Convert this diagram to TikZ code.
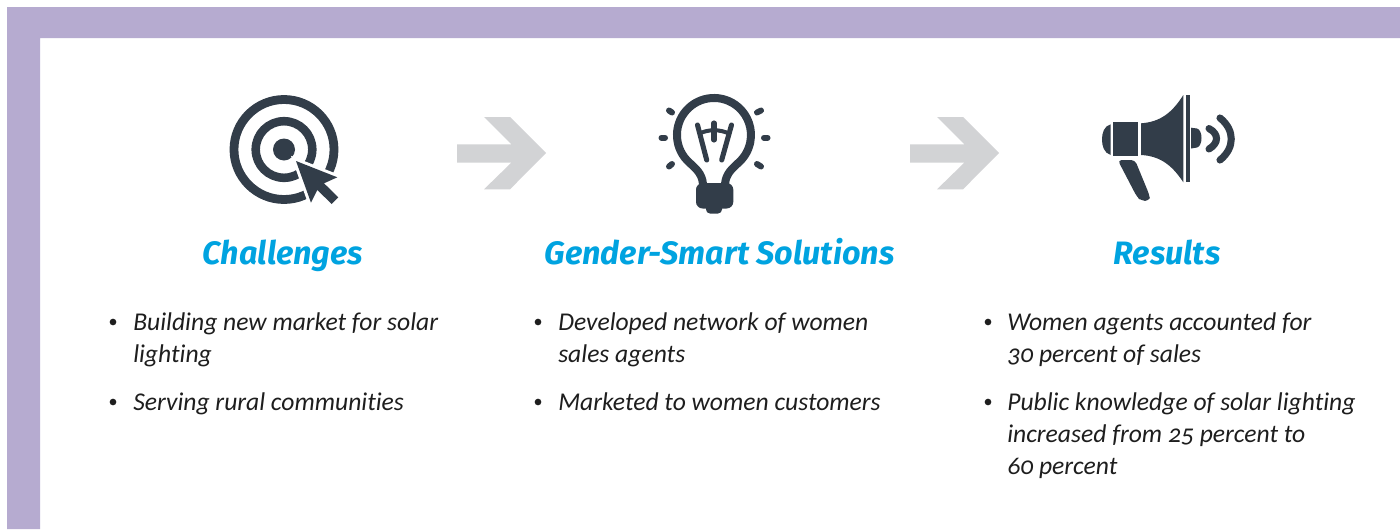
\documentclass[tikz,border=0pt]{standalone}
\usepackage{fontspec}
\setmainfont[Numbers=OldStyle]{Fira Sans}
\newfontfamily\itemfont[Numbers=OldStyle,Ligatures=NoCommon]{Carlito}
\definecolor{frame}{HTML}{B6ABD0}
\definecolor{ink}{HTML}{323D49}
\definecolor{arrowgray}{HTML}{D2D3D5}
\definecolor{head}{HTML}{00A3E0}
\definecolor{bodyink}{HTML}{1E1E1E}
\tikzset{
  heading/.style={font=\fontsize{24.3pt}{28pt}\selectfont\bfseries\itshape,text=head,inner sep=0pt,anchor=base},
  item/.style={font=\itemfont\fontsize{19.2pt}{24pt}\selectfont\itshape,text=bodyink,inner sep=0pt,anchor=base west},
  dot/.style={circle,fill=bodyink,inner sep=0pt,minimum size=5pt},
  inkline/.style={draw=ink,line cap=round},
  bigarrow/.style={fill=arrowgray}
}
\begin{document}
\begin{tikzpicture}[x=0.75pt,y=-0.75pt]
\useasboundingbox (0,0) rectangle (1400,529);
\fill[white] (0,0) rectangle (1400,529);
\fill[frame] (7,529) -- (7,7) -- (1400,7) -- (1400,38) -- (40,38) -- (40,529) -- cycle;
% target icon
\draw[ink,line width=6.6pt] (284,149.5) circle (50);
\draw[ink,line width=6.4pt] (284,149.5) circle (28.3);
\fill[ink] (284,149.5) circle (11);
\draw[white,fill=white,line width=4.5pt,line join=miter] (296,161) -- (337.3,177.3) -- (324,183.3) -- (338.3,197.3) -- (331.7,204) -- (317.3,190) -- (311,202.7) -- cycle;
\fill[ink] (296,161) -- (337.3,177.3) -- (324,183.3) -- (338.3,197.3) -- (331.7,204) -- (317.3,190) -- (311,202.7) -- cycle;
% gray arrows
\fill[bigarrow] (457,144.3) -- (511.3,144.3) -- (484,117) -- (510,117) -- (546,153) -- (510,189.3) -- (484,189.3) -- (511.3,162.7) -- (457,162.7) -- cycle;
\fill[bigarrow] (910,144.3) -- (964.3,144.3) -- (937,117) -- (963,117) -- (999,153) -- (963,189.3) -- (937,189.3) -- (964.3,162.7) -- (910,162.7) -- cycle;
% bulb icon
\draw[ink,line width=6pt,line join=round] (703,184) .. controls (702,173) and (695,168) .. (689.7,162.9) arc[start angle=131,delta angle=278,radius=37] .. controls (733,168) and (726,173) .. (725,184);
\fill[ink,rounded corners=5pt] (696,183) -- (733.3,183) -- (733.3,208.5) -- (696,208.5) -- cycle;
\fill[ink,rounded corners=3pt] (706,203) -- (722,203) -- (722,213.5) -- (706,213.5) -- cycle;
\foreach \a/\b/\c/\d in {661.5/137.7/665/137.7,669/110.5/672/112.5,669/166.5/672/164,764/137.7/767.5/137.7,757/112.5/761/110.5,757/164/761/166.5}
  \draw[inkline,line width=4.5pt] (\a,\b) -- (\c,\d);
\draw[inkline,line width=3.8pt] (697.5,125) -- (706.7,160);
\draw[inkline,line width=3.8pt] (731.5,125) -- (721.7,160);
\draw[ink,line width=3pt] (698.5,134) .. controls (708,129) and (720,129) .. (730,134);
\draw[inkline,line width=3.8pt] (714,123) -- (714,140);
% megaphone icon
\fill[ink] (1110.7,124.3) .. controls (1104,126) and (1102,133) .. (1102,139.5) .. controls (1102,146) and (1104,153) .. (1110.7,155) -- cycle;
\fill[ink] (1113.3,122.3) rectangle (1138.3,156);
\fill[ink] (1141,123.3) .. controls (1160,122) and (1172,113) .. (1183.3,95) -- (1183.3,182.3) .. controls (1172,165) and (1160,156) .. (1141,155) -- cycle;
\fill[ink] (1186.3,95) rectangle (1189.7,182.3);
\fill[ink] (1191,127.7) -- (1197,128.5) .. controls (1203,130) and (1203,146) .. (1197,147.5) -- (1191,148.5) -- cycle;
\fill[ink,rounded corners=3pt] (1117.7,160) -- (1135,160) -- (1149,194) .. controls (1150,199) and (1146,201) .. (1141,200.5) -- (1137,197) -- cycle;
\draw[inkline,line width=5.3pt] (1209,128.5) .. controls (1219,134) and (1219,143) .. (1209,149);
\draw[inkline,line width=5.3pt] (1220,118) .. controls (1235,130) and (1235,148) .. (1220,160);
% headings
\node[heading] (h1) at (283,264) {Challenges};
\node[heading] (h2) at (719.5,264) {Gender-Smart Solutions};
\node[heading] (h3) at (1167,264) {Results};
% column 1
\node[dot] (b11) at (113,322) {};
\node[item] (t11) at (133,330) {Building new market for solar};
\node[item] (t12) at (133,362) {lighting};
\node[dot] (b12) at (113,402) {};
\node[item] (t13) at (133,410) {Serving rural communities};
% column 2
\node[dot] (b21) at (538,322) {};
\node[item] (t21) at (558,330) {Developed network of women};
\node[item] (t22) at (558,362) {sales agents};
\node[dot] (b22) at (538,402) {};
\node[item] (t23) at (558,410) {Marketed to women customers};
% column 3
\node[dot] (b31) at (988,322) {};
\node[item] (t31) at (1007,330) {Women agents accounted for};
\node[item] (t32) at (1007,362) {30 percent of sales};
\node[dot] (b32) at (988,402) {};
\node[item] (t33) at (1007,410) {Public knowledge of solar lighting};
\node[item] (t34) at (1007,442) {increased from 25 percent to};
\node[item] (t35) at (1007,474) {60 percent};
\end{tikzpicture}
\end{document}
